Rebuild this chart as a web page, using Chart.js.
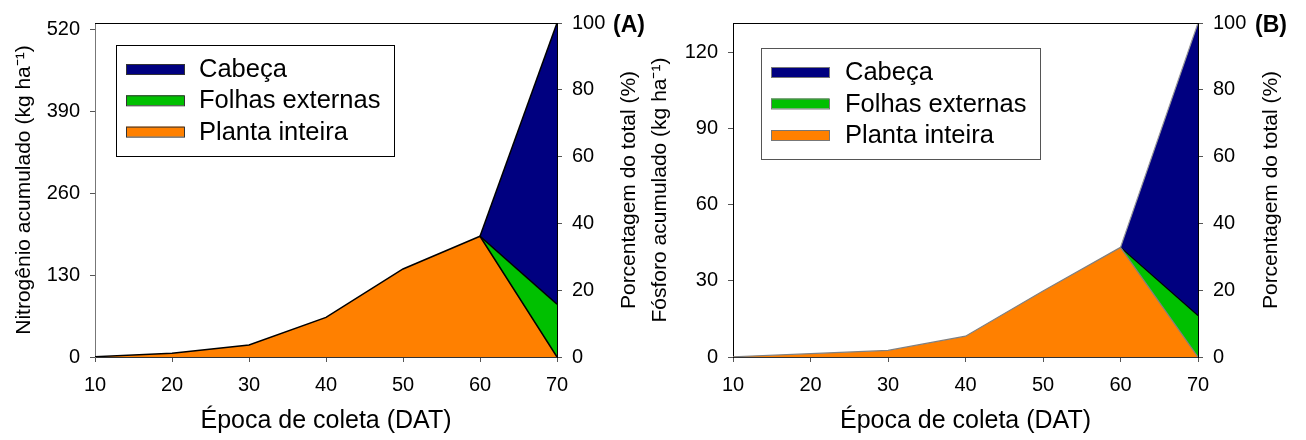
<!DOCTYPE html>
<html lang="pt">
<head>
  <meta charset="UTF-8">
  <title>Nitrogênio e fósforo acumulados</title>
  <script src="https://cdn.jsdelivr.net/npm/chart.js"></script>
  <style>
    body { margin: 0; background: #fff; }
    #wrap { position: relative; width: 1306px; height: 440px; }
    .painel { position: absolute; top: 0; }
  </style>
</head>
<body>
  <div id="wrap">
    <div class="painel" style="left:0"><canvas id="graficoA" width="650" height="440"></canvas></div>
    <div class="painel" style="left:640px"><canvas id="graficoB" width="666" height="440"></canvas></div>
  </div>
  <script>
    // épocas de coleta (DAT)
    const coletas = [10, 20, 30, 40, 50, 60, 70];
    const fimColeta = [60, 70];
    const xTicks = [10, 20, 30, 40, 50, 60, 70];
    const pctTicks = [0, 20, 40, 60, 80, 100];

    // (A) nitrogênio acumulado, kg/ha
    const nPlantaInteira = [0.5, 6, 19, 63, 140, 192, 0];
    const nFolhasExternas = [192, 84];
    const nCabeca = [192, 531];
    const nTicks = [0, 130, 260, 390, 520];
    const nMax = 531;

    // (B) fósforo acumulado, kg/ha
    const pPlantaInteira = [0.1, 1.3, 2.6, 8.2, 26, 43.2, 0];
    const pFolhasExternas = [43.2, 16.3];
    const pCabeca = [43.2, 131.6];
    const pTicks = [0, 30, 60, 90, 120];
    const pMax = 131.6;

    const fonte = '"Liberation Sans", Arial, sans-serif';
    Chart.defaults.font.family = fonte;
    Chart.defaults.color = '#000';

    const pts = (xs, ys) => xs.map((x, i) => ({ x: x, y: ys[i] }));

    // desenha moldura superior, título do eixo direito, rótulo do painel e legenda
    const extras = {
      id: 'extras',
      afterDraw(chart, args, o) {
        const { ctx, chartArea: a } = chart;
        ctx.save();
        ctx.strokeStyle = '#000';
        ctx.lineWidth = 1;
        ctx.beginPath();
        ctx.moveTo(a.left, a.top + 0.5);
        ctx.lineTo(a.right, a.top + 0.5);
        ctx.stroke();

        ctx.fillStyle = '#000';
        ctx.font = '21px ' + fonte;
        ctx.textAlign = 'center';
        ctx.textBaseline = 'middle';
        ctx.save();
        ctx.translate(o.tituloX, (a.top + a.bottom) / 2);
        ctx.rotate(-Math.PI / 2);
        ctx.fillText(o.tituloDireito, 0, 0);
        ctx.restore();

        ctx.font = 'bold 23px ' + fonte;
        ctx.textAlign = 'left';
        ctx.fillText(o.painel, o.painelX, 26);

        // legenda
        const L = o.legenda;
        ctx.fillStyle = '#fff';
        ctx.fillRect(L.x, L.y, L.w, L.h);
        ctx.strokeStyle = L.borda;
        ctx.strokeRect(L.x + 0.5, L.y + 0.5, L.w, L.h);
        ctx.font = '25.5px ' + fonte;
        chart.data.datasets.forEach((ds, i) => {
          const yc = L.linha0 + i * L.passo;
          ctx.fillStyle = ds.backgroundColor;
          ctx.fillRect(L.amostraX, yc - 5, 58, 10);
          ctx.strokeStyle = L.bordaAmostra;
          ctx.strokeRect(L.amostraX + 0.5, yc - 5 + 0.5, 58, 10);
          ctx.fillStyle = '#000';
          ctx.fillText(ds.label, L.textoX, yc + 1);
        });
        ctx.restore();
      }
    };

    function eixoTicks(lista) {
      return s => { s.ticks = lista.map(v => ({ value: v })); };
    }

    function criarGrafico(id, cfg) {
      const comum = { fill: 'origin', borderWidth: cfg.espessura, pointRadius: 0, tension: 0, yAxisID: 'y' };
      return new Chart(document.getElementById(id), {
        type: 'line',
        data: {
          datasets: [
            Object.assign({ label: 'Cabeça', data: pts(fimColeta, cfg.cabeca),
              backgroundColor: '#000080', borderColor: cfg.linhas[0], order: 3 }, comum),
            Object.assign({ label: 'Folhas externas', data: pts(fimColeta, cfg.folhas),
              backgroundColor: '#00c000', borderColor: cfg.linhas[1], order: 2 }, comum),
            Object.assign({ label: 'Planta inteira', data: pts(coletas, cfg.planta),
              backgroundColor: '#ff8000', borderColor: cfg.linhas[2], order: 1 }, comum)
          ]
        },
        options: {
          responsive: false,
          animation: false,
          layout: { padding: { top: 23, left: 0, right: 0, bottom: 0 } },
          plugins: {
            legend: { display: false },
            tooltip: { enabled: false },
            extras: cfg.extras
          },
          scales: {
            x: {
              type: 'linear', min: 10, max: 70,
              afterBuildTicks: eixoTicks(xTicks),
              afterFit: s => { s.height = 83; },
              border: { color: '#333' },
              grid: { drawOnChartArea: false, tickLength: 5, color: '#555' },
              ticks: { font: { size: 20 }, padding: 11, color: '#000' },
              title: { display: true, text: 'Época de coleta (DAT)', font: { size: 25 },
                padding: { top: 0, bottom: 4 }, color: '#000' }
            },
            y: {
              position: 'left', min: 0, max: cfg.yMax,
              afterBuildTicks: eixoTicks(cfg.yTicks),
              afterFit: s => { s.width = cfg.larguraEsq; },
              border: { color: cfg.corEixoEsq },
              grid: { drawOnChartArea: false, tickLength: 5, color: '#555' },
              ticks: { font: { size: 20 }, padding: 10, color: '#000' },
              title: { display: true, text: cfg.tituloEsq, font: { size: 21 },
                padding: { top: cfg.padTitulo, bottom: 0 }, color: '#000' }
            },
            y1: {
              position: 'right', min: 0, max: 100,
              afterBuildTicks: eixoTicks(pctTicks),
              afterFit: s => { s.width = cfg.larguraDir; },
              border: { color: '#000' },
              grid: { drawOnChartArea: false, tickLength: 5, color: '#555' },
              ticks: { font: { size: 20 }, padding: 10, color: '#000' }
            }
          }
        },
        plugins: [extras]
      });
    }

    criarGrafico('graficoA', {
      planta: nPlantaInteira, folhas: nFolhasExternas, cabeca: nCabeca,
      linhas: ['#000', '#000', '#000'], espessura: 1.5,
      yMax: nMax, yTicks: nTicks,
      larguraEsq: 95, larguraDir: 93, corEixoEsq: '#777', padTitulo: 12,
      tituloEsq: 'Nitrogênio acumulado (kg ha⁻¹)',
      extras: {
        tituloDireito: 'Porcentagem do total (%)', tituloX: 629,
        painel: '(A)', painelX: 613,
        legenda: { x: 116, y: 45, w: 278, h: 111, linha0: 69, passo: 31.3,
          amostraX: 126, textoX: 199, borda: '#000', bordaAmostra: '#333' }
      }
    });

    criarGrafico('graficoB', {
      planta: pPlantaInteira, folhas: pFolhasExternas, cabeca: pCabeca,
      linhas: ['#999', '#000', '#808080'], espessura: 1.2,
      yMax: pMax, yTicks: pTicks,
      larguraEsq: 93, larguraDir: 108, corEixoEsq: '#000', padTitulo: 8,
      tituloEsq: 'Fósforo acumulado (kg ha⁻¹)',
      extras: {
        tituloDireito: 'Porcentagem do total (%)', tituloX: 631,
        painel: '(B)', painelX: 615,
        legenda: { x: 121, y: 48, w: 279, h: 111, linha0: 72, passo: 31.5,
          amostraX: 131, textoX: 205, borda: '#555', bordaAmostra: '#777' }
      }
    });
  </script>
</body>
</html>
